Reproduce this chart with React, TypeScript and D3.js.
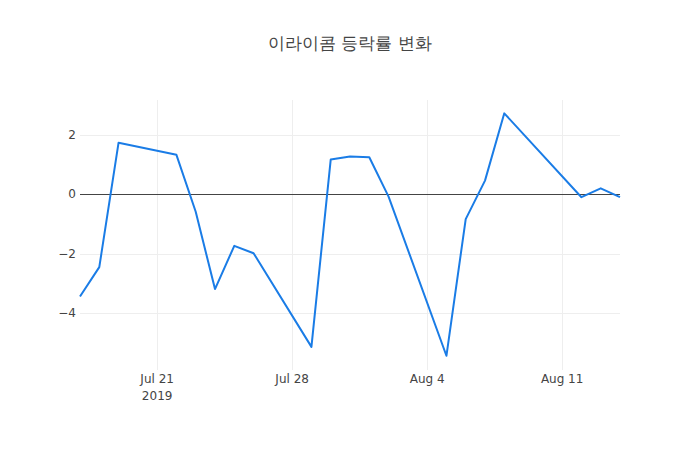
import React from "react";
import * as d3 from "d3";

const dates = [
  "2019-07-17", "2019-07-18", "2019-07-19", "2019-07-22", "2019-07-23",
  "2019-07-24", "2019-07-25", "2019-07-26", "2019-07-29", "2019-07-30",
  "2019-07-31", "2019-08-01", "2019-08-02", "2019-08-05", "2019-08-06",
  "2019-08-07", "2019-08-08", "2019-08-12", "2019-08-13", "2019-08-14",
];
const changes = [
  -3.45, -2.46, 1.74, 1.33, -0.59,
  -3.2, -1.74, -1.99, -5.15, 1.17,
  1.27, 1.25, -0.08, -5.45, -0.84,
  0.46, 2.73, -0.1, 0.2, -0.1,
];
const xTicks = ["2019-07-21", "2019-07-28", "2019-08-04", "2019-08-11"];
const yTicks = [-4, -2, 0, 2];
const title = "이라이콤 등락률 변화";

const width = 700;
const height = 450;
const margin = { top: 100, right: 80, bottom: 80, left: 80 };

const parse = d3.timeParse("%Y-%m-%d");
const fmtTick = d3.timeFormat("%b %-d");
const font = "'DejaVu Sans', verdana, arial, sans-serif";

// snap 1px lines to the pixel grid
const crisp = (v: number) => Math.round(v) + 0.5;

export default function App() {
  const pts = dates.map((d, i) => ({ date: parse(d) as Date, v: changes[i] }));

  const x = d3
    .scaleTime()
    .domain(d3.extent(pts, (d) => d.date) as [Date, Date])
    .range([margin.left, width - margin.right]);
  const y = d3
    .scaleLinear()
    .domain([-5.93, 3.18])
    .range([height - margin.bottom, margin.top]);

  const line = d3
    .line<{ date: Date; v: number }>()
    .x((d) => x(d.date))
    .y((d) => y(d.v));

  const x0 = margin.left;
  const x1 = width - margin.right;
  const y0 = margin.top;
  const y1 = height - margin.bottom;

  return (
    <svg width={width} height={height} style={{ display: "block", position: "absolute", left: 0, top: 0, background: "#fff" }}>
      <text x={width / 2} y={49} textAnchor="middle" fontFamily={font} fontSize={17} fill="#444">
        {title}
      </text>

      {/* gridlines */}
      {xTicks.map((t) => (
        <line key={t} x1={crisp(x(parse(t) as Date))} x2={crisp(x(parse(t) as Date))} y1={y0} y2={y1} stroke="#eee" strokeWidth={1} />
      ))}
      {yTicks.filter((t) => t !== 0).map((t) => (
        <line key={t} x1={x0} x2={x1} y1={crisp(y(t))} y2={crisp(y(t))} stroke="#eee" strokeWidth={1} />
      ))}

      {/* zero line */}
      <line x1={x0} x2={x1} y1={crisp(y(0))} y2={crisp(y(0))} stroke="#444" strokeWidth={1} />

      <path d={line(pts) ?? ""} fill="none" stroke="#1a7ce6" strokeWidth={2} strokeLinejoin="round" />

      {/* y tick labels */}
      {yTicks.map((t) => (
        <text key={t} x={x0 - 4} y={y(t)} dy="0.35em" textAnchor="end" fontFamily={font} fontSize={12} fill="#444">
          {t < 0 ? "\u2212" + Math.abs(t) : t}
        </text>
      ))}

      {/* x tick labels */}
      {xTicks.map((t, i) => (
        <text key={t} x={x(parse(t) as Date)} y={y1 + 9} dy="0.35em" textAnchor="middle" fontFamily={font} fontSize={12} fill="#444">
          {fmtTick(parse(t) as Date)}
          {i === 0 && (
            <tspan x={x(parse(t) as Date)} dy="1.4em">2019</tspan>
          )}
        </text>
      ))}
    </svg>
  );
}
